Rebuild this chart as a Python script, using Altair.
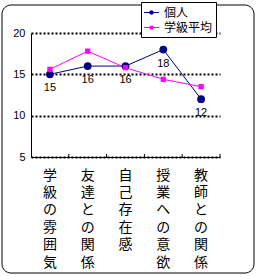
import altair as alt
import pandas as pd

categories = ["学級の雰囲気", "友達との関係", "自己存在感", "授業への意欲", "教師との関係"]
individual = [15, 16, 16, 18, 12]
class_avg = [15.6, 17.8, 15.8, 14.4, 13.5]
series_names = ["個人", "学級平均"]
y_ticks = [5, 10, 15, 20]

rows = []
for c, v in zip(categories, individual):
    rows.append({"cat": c, "val": v, "series": series_names[0]})
for c, v in zip(categories, class_avg):
    rows.append({"cat": c, "val": v, "series": series_names[1]})
df = pd.DataFrame(rows)

FONT = "Noto Sans CJK JP"
W, H = 189, 124

xenc = alt.X("cat:N", sort=categories, title=None,
             scale=alt.Scale(paddingInner=0, paddingOuter=0),
             axis=alt.Axis(labelAngle=0, ticks=False, domain=True, domainColor="black",
                           labelExpr="split(datum.label, '')", labelBaseline="top",
                           labelLineHeight=17.4, labelFontSize=14, labelPadding=11,
                           labelFont=FONT, labelColor="black", labelOverlap=False,
                           labelBound=False, grid=False))
yenc = alt.Y("val:Q", title=None,
             scale=alt.Scale(domain=[5, 20], nice=False, zero=False),
             axis=alt.Axis(values=y_ticks, ticks=False, domain=True, domainColor="black",
                           labelFontSize=11, labelFont="Liberation Sans", labelColor="black",
                           labelPadding=6, grid=True, gridColor="black", gridWidth=2,
                           gridDash=[2, 2]))

color_scale = alt.Scale(domain=series_names, range=["#000080", "#FF00FF"])

base = alt.Chart(df)

lines = base.mark_line(strokeWidth=1).encode(
    x=xenc, y=yenc,
    color=alt.Color("series:N", scale=color_scale, legend=None),
    detail="series:N",
)

circles = base.transform_filter(alt.datum.series == series_names[0]).mark_circle(
    size=60, opacity=1).encode(
    x=alt.X("cat:N", sort=categories), y="val:Q",
    color=alt.Color("series:N", scale=color_scale, legend=None),
)

squares = base.transform_filter(alt.datum.series == series_names[1]).mark_square(
    size=28, opacity=1).encode(
    x=alt.X("cat:N", sort=categories), y="val:Q",
    color=alt.Color("series:N", scale=color_scale, legend=None),
)

labels = base.transform_filter(alt.datum.series == series_names[0]).mark_text(
    dy=14, fontSize=11, font="Liberation Sans", color="black").encode(
    x=alt.X("cat:N", sort=categories), y="val:Q",
    text=alt.Text("val:Q", format="d"),
)

tick_df = pd.DataFrame({"cat": categories})
ticks = alt.Chart(tick_df).mark_rule(color="black", strokeWidth=1).encode(
    x=alt.X("cat:N", sort=categories, bandPosition=1),
    y=alt.value(H - 3), y2=alt.value(H),
)

circle_path = ("M-1,-0.06H-0.3V0.06H-1Z M0.3,-0.06H1V0.06H0.3Z "
               "M0.3,0A0.3,0.3 0 1 1 -0.3,0A0.3,0.3 0 1 1 0.3,0Z")
square_path = ("M-1,-0.06H-0.25V0.06H-1Z M0.25,-0.06H1V0.06H0.25Z "
               "M-0.25,-0.25H0.25V0.25H-0.25Z")

leg = alt.Legend(title=None, orient="none", legendX=110, legendY=-31,
                 fillColor="white", strokeColor="black", padding=3,
                 labelFont=FONT, labelFontSize=12, labelColor="black",
                 symbolSize=225, rowPadding=1, labelOffset=5, symbolStrokeWidth=0)

legend_layer = base.transform_filter("false").mark_point(filled=True, opacity=1).encode(
    x=alt.X("cat:N", sort=categories), y="val:Q",
    color=alt.Color("series:N", scale=color_scale, legend=leg),
    shape=alt.Shape("series:N",
                    scale=alt.Scale(domain=series_names, range=[circle_path, square_path]),
                    legend=leg),
)

frame = alt.Chart(alt.Data(values=[{}])).mark_rect(
    fill=None, stroke="black", strokeWidth=1, cornerRadius=9).encode(
    x=alt.value(-29), x2=alt.value(223), y=alt.value(-28), y2=alt.value(240),
)

chart = alt.layer(frame, lines, circles, squares, labels, ticks, legend_layer).resolve_legend(
    color="independent", shape="independent"
).properties(
    width=W, height=H,
    autosize=alt.AutoSizeParams(type="none"),
    padding={"left": 31, "top": 33, "right": 257 - 31 - W, "bottom": 276 - 33 - H},
    background="white",
).configure_view(stroke=None)

chart.save("out.html", embed_options={"renderer": "svg", "actions": False})
